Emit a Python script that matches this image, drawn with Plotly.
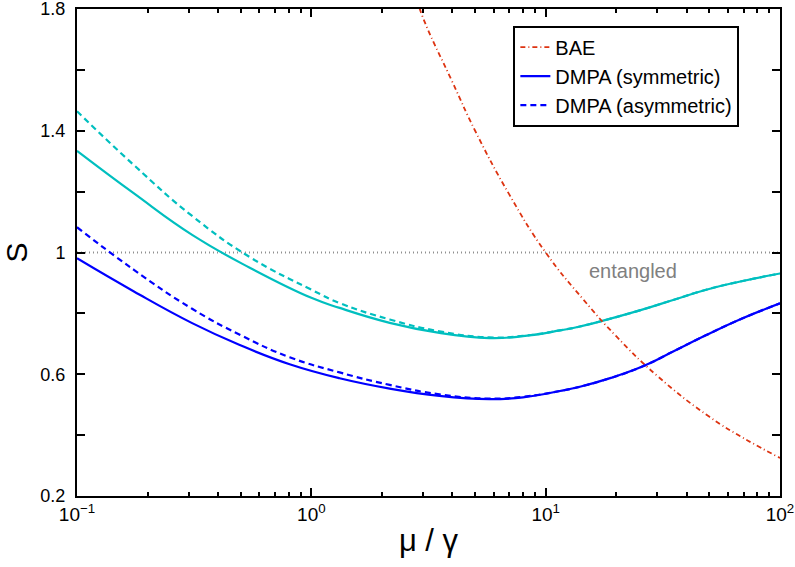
import plotly.graph_objects as go

# --- data ---
bae_x = [2.8, 3.0, 4.0, 5.0, 7.0, 10.0, 14.5, 20.0, 30.0, 50.0, 70.0, 100.0]
bae_y = [1.84, 1.77, 1.56, 1.40, 1.19, 1.00, 0.845, 0.725, 0.594, 0.460, 0.390, 0.325]

blue_sym_x = [0.1, 0.175, 0.31, 0.495, 0.808, 1.32, 2.16, 3.52, 5.75, 8.0, 11.5, 14.0, 19.0, 26.0, 35.0, 48.0, 67.0, 100.0]
blue_sym_y = [0.981, 0.872, 0.768, 0.696, 0.633, 0.587, 0.553, 0.529, 0.518, 0.524, 0.545, 0.559, 0.588, 0.626, 0.675, 0.727, 0.779, 0.833]

blue_asym_x = [0.1, 0.175, 0.31, 0.495, 0.808, 1.32, 2.16, 3.52, 5.75, 8.0, 11.5, 14.0, 19.0, 26.0, 35.0, 48.0, 67.0, 100.0]
blue_asym_y = [1.083, 0.943, 0.815, 0.730, 0.656, 0.606, 0.565, 0.534, 0.520, 0.526, 0.545, 0.559, 0.588, 0.626, 0.675, 0.727, 0.779, 0.833]

cyan_sym_x = [0.1, 0.175, 0.31, 0.546, 1.0, 1.32, 2.16, 3.52, 5.75, 8.0, 11.5, 14.0, 25.0, 35.0, 48.0, 67.0, 100.0]
cyan_sym_y = [1.334, 1.194, 1.058, 0.950, 0.851, 0.818, 0.769, 0.736, 0.719, 0.725, 0.744, 0.757, 0.809, 0.844, 0.877, 0.904, 0.931]

cyan_asym_x = [0.1, 0.175, 0.31, 0.546, 1.0, 1.32, 2.16, 3.52, 5.75, 8.0, 11.5, 14.0, 25.0, 35.0, 48.0, 67.0, 100.0]
cyan_asym_y = [1.464, 1.287, 1.120, 0.985, 0.878, 0.834, 0.780, 0.741, 0.721, 0.726, 0.744, 0.757, 0.809, 0.844, 0.877, 0.904, 0.931]

limit_x = [0.1, 100.0]
limit_y = [1.0, 1.0]

y_ticks = [0.2, 0.4, 0.6, 0.8, 1.0, 1.2, 1.4, 1.6, 1.8]
y_labels = ["0.2", "", "0.6", "", "1", "", "1.4", "", "1.8"]
x_ticks = [0.1, 1, 10, 100]
x_labels = ["10<sup>\u22121</sup>", "10<sup>0</sup>", "10<sup>1</sup>", "10<sup>2</sup>"]
x_minor = [m * d for d in (0.1, 1, 10) for m in range(2, 10)]

BLUE = "#0000ff"
CYAN = "#00bfbf"
RED = "#dd3311"
FONT = "Liberation Sans, Arial, sans-serif"
SM = 1.3

fig = go.Figure()
fig.add_trace(go.Scatter(x=limit_x, y=limit_y, mode="lines", showlegend=False,
                         line=dict(color="#909090", width=2, dash="1px,3px")))
fig.add_trace(go.Scatter(x=cyan_sym_x, y=cyan_sym_y, mode="lines", showlegend=False,
                         line=dict(color=CYAN, width=2.2, shape="spline", smoothing=SM)))
fig.add_trace(go.Scatter(x=cyan_asym_x, y=cyan_asym_y, mode="lines", showlegend=False,
                         line=dict(color=CYAN, width=2.2, dash="6px,4px", shape="spline", smoothing=SM)))
fig.add_trace(go.Scatter(x=bae_x, y=bae_y, mode="lines", name="BAE", legendgroup="a",
                         line=dict(color=RED, width=1.8, dash="5px,3px,1px,3px", shape="spline", smoothing=SM)))
fig.add_trace(go.Scatter(x=blue_sym_x, y=blue_sym_y, mode="lines", name="DMPA (symmetric)", legendgroup="b",
                         line=dict(color=BLUE, width=2.2, shape="spline", smoothing=SM)))
fig.add_trace(go.Scatter(x=blue_asym_x, y=blue_asym_y, mode="lines", name="DMPA (asymmetric)", legendgroup="c",
                         line=dict(color=BLUE, width=2.2, dash="6px,4px", shape="spline", smoothing=SM)))

fig.add_annotation(x=1.373, y=0.938, xref="x", yref="y", text="entangled", showarrow=False,
                   font=dict(family=FONT, size=20, color="#808080"))

fig.update_layout(
    width=795, height=567,
    margin=dict(l=77, r=15, t=9, b=71),
    plot_bgcolor="white", paper_bgcolor="white",
    font=dict(family=FONT, size=18, color="black"),
    legend=dict(x=0.6207, y=0.966, xanchor="left", yanchor="top",
                bordercolor="black", borderwidth=2, bgcolor="white", entrywidth=200,
                font=dict(family=FONT, size=20), traceorder="grouped", tracegroupgap=0),
    xaxis=dict(type="log", range=[-1, 2], showline=True, linecolor="black", linewidth=2,
               mirror="ticks", ticks="inside", ticklen=8, tickwidth=1.5, tickcolor="black",
               tickvals=x_ticks, ticktext=x_labels, showgrid=False, zeroline=False,
               tickfont=dict(family=FONT, size=19), ticklabeloverflow="allow", automargin=False,
               minor=dict(ticks="inside", ticklen=4, tickwidth=1.5, tickcolor="black",
                          tickvals=x_minor, showgrid=False),
               title=dict(text="\u03bc / \u03b3", font=dict(family=FONT, size=31), standoff=6)),
    yaxis=dict(range=[0.2, 1.8], showline=True, linecolor="black", linewidth=2,
               mirror="ticks", ticks="inside", ticklen=8, tickwidth=1.5, tickcolor="black",
               tickvals=y_ticks, ticktext=y_labels, showgrid=False, zeroline=False,
               tickfont=dict(family=FONT, size=18), ticklabeloverflow="allow", automargin=False,
               ticklabelstandoff=6,
               title=dict(text="S", font=dict(family=FONT, size=30), standoff=6)),
)

fig.write_html("out.html")
